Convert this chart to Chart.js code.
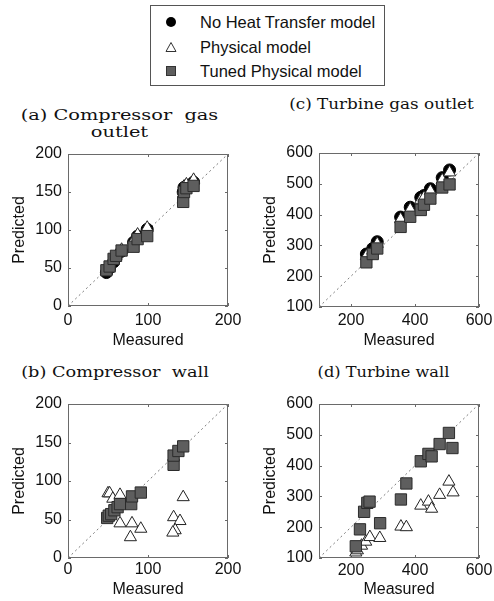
<!DOCTYPE html>
<html>
<head>
<meta charset="utf-8">
<script src="https://cdn.jsdelivr.net/npm/chart.js@4/dist/chart.umd.min.js"></script>
<style>
  html, body { margin: 0; padding: 0; background: #fff; }
  #page { position: relative; width: 494px; height: 601px; overflow: hidden; }
  canvas { position: absolute; }
  .ptitle {
    position: absolute; font-family: "DejaVu Serif", serif; font-size: 15px;
    line-height: 17px; white-space: pre; text-align: center; color: #111;
  }
  #legend {
    position: absolute; left: 150px; top: 5px; width: 233px; height: 79px;
    border: 1px solid #555; font-family: "Liberation Sans", Arial, sans-serif;
    font-size: 16.5px; color: #111;
  }
  #legend .row { position: absolute; left: 0; height: 20px; line-height: 20px; }
  #legend svg { position: absolute; left: 14px; top: 4px; }
  #legend span { position: absolute; left: 49px; white-space: nowrap; }
</style>
</head>
<body>
<div id="page">
  <div id="legend"></div>
  <div class="ptitle" id="ta" style="left:0;top:107px;width:239px;transform:scaleX(1.29);">(a) Compressor  gas
outlet</div>
  <div class="ptitle" id="tc" style="left:269px;top:96px;width:225px;transform:scaleX(1.12);">(c) Turbine gas outlet</div>
  <div class="ptitle" id="tb" style="left:0;top:364px;width:230px;transform:scaleX(1.18);">(b) Compressor  wall</div>
  <div class="ptitle" id="td" style="left:273px;top:364px;width:221px;transform:scaleX(1.08);">(d) Turbine wall</div>
  <canvas id="chartA" width="250" height="220" style="left:0;top:130px"></canvas>
  <canvas id="chartC" width="239" height="220" style="left:255px;top:130px"></canvas>
  <canvas id="chartB" width="250" height="221" style="left:0;top:380px"></canvas>
  <canvas id="chartD" width="239" height="221" style="left:255px;top:380px"></canvas>
</div>
<script>
const seriesNames = ["No Heat Transfer model", "Physical model", "Tuned Physical model"];

// (a) compressor gas outlet
const compGasMeasured = [48, 52, 57, 60, 67, 82, 87, 99, 144, 145, 148, 157];
const compGasNoHT     = [44, 50, 58, 64, 72, 84, 92, 101, 150, 156, 158, 163];
const compGasPhys     = [46, 52, 60, 66, 74, 86, 94, 103, 152, 157, 160, 166];
const compGasTuned    = [47, 52, 62, 66, 73, 78, 88, 92, 137, 150, 155, 158];

// (c) turbine gas outlet
const turbGasMeasured = [248, 268, 282, 355, 385, 418, 428, 448, 485, 508];
const turbGasNoHT     = [272, 290, 312, 392, 424, 456, 462, 484, 520, 545];
const turbGasPhys     = [265, 283, 305, 385, 417, 448, 455, 477, 512, 537];
const turbGasTuned    = [245, 272, 290, 360, 393, 415, 432, 452, 488, 498];

// (b) compressor wall
const compWallPhysX  = [50, 52, 56, 65, 65, 80, 91, 78, 144, 132, 140, 134, 131];
const compWallPhysY  = [84, 84, 77, 82, 45, 45, 38, 27, 79, 53, 48, 36, 33];
const compWallTunedX = [49, 51, 54, 58, 62, 65, 79, 80, 91, 132, 132, 138, 144];
const compWallTunedY = [52, 55, 57, 62, 66, 70, 70, 80, 85, 121, 133, 139, 145];

// (d) turbine wall
const turbWallPhysX  = [215, 220, 233, 246, 259, 290, 356, 373, 418, 442, 452, 477, 506, 519];
const turbWallPhysY  = [118, 125, 140, 153, 168, 165, 202, 200, 270, 283, 260, 305, 348, 313];
const turbWallTunedX = [215, 228, 241, 251, 258, 291, 356, 373, 418, 442, 452, 477, 506, 517];
const turbWallTunedY = [138, 193, 250, 279, 283, 213, 290, 342, 414, 438, 430, 470, 506, 457];

// axis limits and ticks
const compRange = [0, 200];
const compXTicks = [0, 100, 200];
const compYTicks = [0, 50, 100, 150, 200];
const turbRange = [100, 600];
const turbXTicks = [200, 400, 600];
const turbYTicks = [100, 200, 300, 400, 500, 600];

Chart.defaults.font.family = '"Liberation Sans", Arial, sans-serif';
Chart.defaults.font.size = 16;
Chart.defaults.color = '#111';

const styles = {
  noHT:  { pointStyle: 'circle',   pointRadius: 6, backgroundColor: '#000', borderColor: '#000', borderWidth: 1, order: 3 },
  phys:  { pointStyle: 'triangle', pointRadius: 7, backgroundColor: '#fff', borderColor: '#222', borderWidth: 1, order: 2 },
  tuned: { pointStyle: 'rect',     pointRadius: 8, backgroundColor: '#5e5e5e', borderColor: '#2b2b2b', borderWidth: 1, order: 1 }
};

function pts(xs, ys) {
  return xs.map((x, i) => ({ x: x, y: ys[i] }));
}

// frame around the plot with small inward ticks on all four sides
const boxFrame = {
  id: 'boxFrame',
  beforeDatasetsDraw(chart) {
    const { ctx, chartArea: a, scales } = chart;
    ctx.save();
    ctx.strokeStyle = '#6a6a6a';
    ctx.lineWidth = 1;
    ctx.strokeRect(a.left + 0.5, a.top + 0.5, a.width - 1, a.height - 1);
    ctx.beginPath();
    scales.x.ticks.forEach(t => {
      const px = Math.round(scales.x.getPixelForValue(t.value)) + 0.5;
      ctx.moveTo(px, a.bottom); ctx.lineTo(px, a.bottom - 3);
      ctx.moveTo(px, a.top); ctx.lineTo(px, a.top + 3);
    });
    scales.y.ticks.forEach(t => {
      const py = Math.round(scales.y.getPixelForValue(t.value)) + 0.5;
      ctx.moveTo(a.left, py); ctx.lineTo(a.left + 3, py);
      ctx.moveTo(a.right, py); ctx.lineTo(a.right - 3, py);
    });
    ctx.stroke();
    ctx.restore();
  }
};

function makePanel(id, cfg) {
  const [lo, hi] = cfg.range;
  const datasets = [{
    type: 'line',
    label: 'y = x',
    data: [{ x: lo, y: lo }, { x: hi, y: hi }],
    borderColor: '#7a7a7a',
    borderWidth: 1,
    borderDash: [2, 3],
    pointRadius: 0,
    showLine: true,
    order: 5
  }];
  cfg.series.forEach(s => {
    datasets.push(Object.assign({ label: s.name, data: s.data }, styles[s.kind]));
  });

  new Chart(document.getElementById(id), {
    type: 'scatter',
    data: { datasets: datasets },
    plugins: [boxFrame],
    options: {
      responsive: false,
      animation: false,
      layout: { padding: cfg.padding },
      plugins: { legend: { display: false }, tooltip: { enabled: false } },
      scales: {
        x: {
          type: 'linear', min: lo, max: hi,
          afterBuildTicks: s => { s.ticks = cfg.xTicks.map(v => ({ value: v })); },
          afterFit: s => { s.height = cfg.xHeight; s.paddingLeft = 0; s.paddingRight = 0; },
          grid: { display: false, drawTicks: false, tickLength: 0 },
          border: { display: false },
          ticks: { padding: cfg.xPad, maxRotation: 0, autoSkip: false },
          title: { display: true, text: 'Measured', padding: { top: 0, bottom: cfg.titlePad } }
        },
        y: {
          type: 'linear', min: lo, max: hi,
          afterBuildTicks: s => { s.ticks = cfg.yTicks.map(v => ({ value: v })); },
          afterFit: s => { s.width = 58; s.paddingTop = 0; s.paddingBottom = 0; },
          grid: { display: false, drawTicks: false, tickLength: 0 },
          border: { display: false },
          ticks: { padding: 6, autoSkip: false },
          title: { display: true, text: 'Predicted', padding: 0 }
        }
      }
    }
  });
}

makePanel('chartA', {
  range: compRange, xTicks: compXTicks, yTicks: compYTicks,
  padding: { left: 10, right: 22, top: 24, bottom: 0 }, xHeight: 44, xPad: 5, titlePad: 0,
  series: [
    { name: seriesNames[0], kind: 'noHT', data: pts(compGasMeasured, compGasNoHT) },
    { name: seriesNames[1], kind: 'phys', data: pts(compGasMeasured, compGasPhys) },
    { name: seriesNames[2], kind: 'tuned', data: pts(compGasMeasured, compGasTuned) }
  ]
});

makePanel('chartC', {
  range: turbRange, xTicks: turbXTicks, yTicks: turbYTicks,
  padding: { left: 6, right: 15, top: 23, bottom: 0 }, xHeight: 43, xPad: 4, titlePad: 0,
  series: [
    { name: seriesNames[0], kind: 'noHT', data: pts(turbGasMeasured, turbGasNoHT) },
    { name: seriesNames[1], kind: 'phys', data: pts(turbGasMeasured, turbGasPhys) },
    { name: seriesNames[2], kind: 'tuned', data: pts(turbGasMeasured, turbGasTuned) }
  ]
});

makePanel('chartB', {
  range: compRange, xTicks: compXTicks, yTicks: compYTicks,
  padding: { left: 10, right: 22, top: 24, bottom: 0 }, xHeight: 43, xPad: 2, titlePad: 2,
  series: [
    { name: seriesNames[1], kind: 'phys', data: pts(compWallPhysX, compWallPhysY) },
    { name: seriesNames[2], kind: 'tuned', data: pts(compWallTunedX, compWallTunedY) }
  ]
});

makePanel('chartD', {
  range: turbRange, xTicks: turbXTicks, yTicks: turbYTicks,
  padding: { left: 6, right: 15, top: 24, bottom: 0 }, xHeight: 43, xPad: 3, titlePad: 2,
  series: [
    { name: seriesNames[1], kind: 'phys', data: pts(turbWallPhysX, turbWallPhysY) },
    { name: seriesNames[2], kind: 'tuned', data: pts(turbWallTunedX, turbWallTunedY) }
  ]
});

// legend box above the panels
const legendIcons = [
  '<svg width="12" height="12"><circle cx="6" cy="6" r="5" fill="#000"/></svg>',
  '<svg width="12" height="12"><polygon points="6,1.5 11,10.5 1,10.5" fill="#fff" stroke="#333" stroke-width="1"/></svg>',
  '<svg width="12" height="12"><rect x="1.5" y="1.5" width="9" height="9" fill="#5e5e5e" stroke="#333" stroke-width="1"/></svg>'
];
const legendRows = [16, 41, 65];
const legend = document.getElementById('legend');
seriesNames.forEach((name, i) => {
  const row = document.createElement('div');
  row.className = 'row';
  row.style.top = (legendRows[i] - 10) + 'px';
  row.innerHTML = legendIcons[i] + '<span>' + name + '</span>';
  legend.appendChild(row);
});
</script>
</body>
</html>
